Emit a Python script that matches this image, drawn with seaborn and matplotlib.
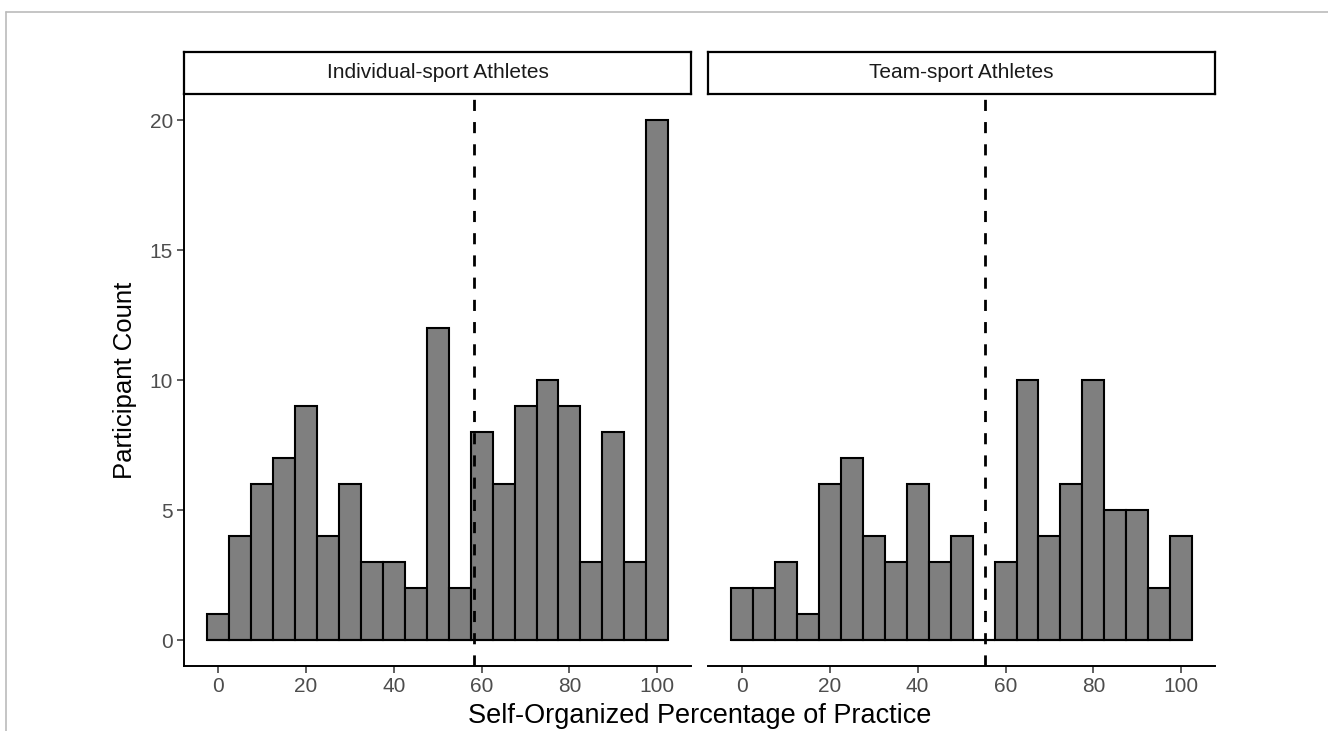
import numpy as np
import pandas as pd
import matplotlib
matplotlib.use("Agg")
import matplotlib.pyplot as plt
from matplotlib.lines import Line2D
import seaborn as sns

# bin centres (percent self-organized practice) and counts per facet
bins = [0, 5, 10, 15, 20, 25, 30, 35, 40, 45, 50,
        55, 60, 65, 70, 75, 80, 85, 90, 95, 100]
individual_counts = [1, 4, 6, 7, 9, 4, 6, 3, 3, 2, 12,
                     2, 8, 6, 9, 10, 9, 3, 8, 3, 20]
team_counts = [2, 2, 3, 1, 6, 7, 4, 3, 6, 3, 4,
               0, 3, 10, 4, 6, 10, 5, 5, 2, 4]
panels = ["Individual-sport Athletes", "Team-sport Athletes"]
cutoffs = [58.3, 55.3]
x_ticks = [0, 20, 40, 60, 80, 100]
y_ticks = [0, 5, 10, 15, 20]

df = pd.concat([
    pd.DataFrame({"group": panels[0], "pct": bins, "n": individual_counts}),
    pd.DataFrame({"group": panels[1], "pct": bins, "n": team_counts}),
])

sns.set_style("white")
plt.rcParams["font.family"] = ["Liberation Sans", "DejaVu Sans"]

fig = plt.figure(figsize=(13.28, 7.31), dpi=100)

bottom, height = 0.0889, 0.7825
strip_h = 0.0575
lefts = [0.1386, 0.5331]
width = 0.382
grey_txt = "#4D4D4D"
half = 2.5  # half bin width

for i, (name, cut) in enumerate(zip(panels, cutoffs)):
    ax = fig.add_axes([lefts[i], bottom, width, height])
    sub = df[df["group"] == name]
    sns.histplot(data=sub, x="pct", weights="n", binwidth=5,
                 binrange=(min(bins) - half, max(bins) + half),
                 color="#7F7F7F", alpha=1,
                 edgecolor="black", linewidth=1.5, ax=ax)
    # empty bins still show their outline along zero, as in ggplot
    ax.hlines(0, min(bins) - half, max(bins) + half, color="black", lw=1.5,
              zorder=1)
    ax.axvline(cut, color="black", ls=(0, (4, 4)), lw=2, zorder=3)
    ax.set_xlim(-7.75, 107.75)
    ax.set_ylim(-1, 21)
    ax.set_xticks(x_ticks)
    ax.set_xlabel("")
    ax.set_ylabel("")
    for s in ["top", "right"]:
        ax.spines[s].set_visible(False)
    ax.spines["bottom"].set_linewidth(1.4)
    ax.spines["bottom"].set_color("black")
    ax.tick_params(axis="x", length=5, width=1.1, color="#333333",
                   labelcolor=grey_txt, labelsize=15, pad=3, bottom=True)
    if i == 0:
        ax.set_yticks(y_ticks)
        ax.spines["left"].set_linewidth(1.4)
        ax.spines["left"].set_color("black")
        ax.tick_params(axis="y", length=5, width=1.1, color="#333333",
                       labelcolor=grey_txt, labelsize=15, pad=3, left=True)
    else:
        ax.spines["left"].set_visible(False)
        ax.set_yticks([])

    # facet strip
    sax = fig.add_axes([lefts[i], bottom + height, width, strip_h])
    sax.set_xticks([])
    sax.set_yticks([])
    sax.set_facecolor("white")
    for s in sax.spines.values():
        s.set_visible(True)
        s.set_color("black")
        s.set_linewidth(1.6)
    sax.text(0.5, 0.5, name, ha="center", va="center", fontsize=15,
             color="#1A1A1A", transform=sax.transAxes)

fig.text(0.527, 0.021, "Self-Organized Percentage of Practice",
         ha="center", va="center", fontsize=19.5, color="black")
fig.text(0.094, 0.48, "Participant Count", ha="center", va="center",
         rotation=90, fontsize=18.5, color="black")

# thin grey frame at top and left of the original image
fig.add_artist(Line2D([0.0045, 1.0], [1 - 12 / 731, 1 - 12 / 731],
                      color="#BBBBBB", lw=1.2, transform=fig.transFigure))
fig.add_artist(Line2D([0.0045, 0.0045], [0.0, 1 - 12 / 731],
                      color="#BBBBBB", lw=1.2, transform=fig.transFigure))

fig.savefig("out.png", dpi=100)
